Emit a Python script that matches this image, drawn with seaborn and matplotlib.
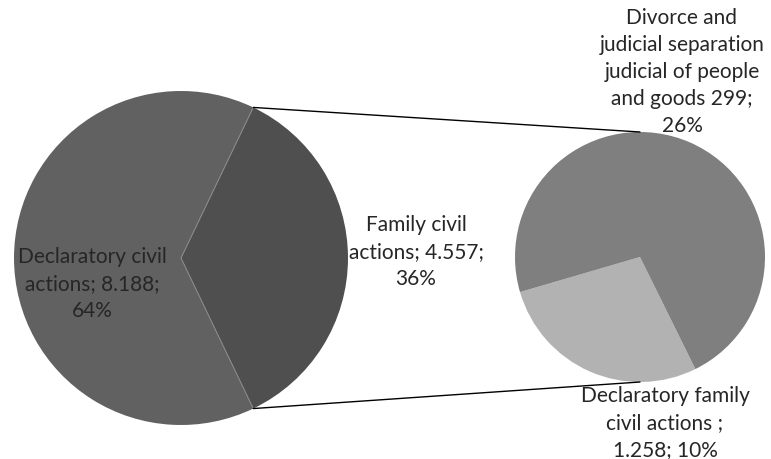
import numpy as np
import matplotlib
matplotlib.use("Agg")
import matplotlib.pyplot as plt
import seaborn as sns

# Main pie: civil actions
main_labels = ["Declaratory civil\nactions; 8.188;\n64%", "Family civil\nactions; 4.557;\n36%"]
main_values = [8188, 4557]
main_colors = ["#616161", "#4f4f4f"]

# Secondary pie: breakdown of family civil actions (percent of all civil actions)
sub_labels = ["Declaratory family\ncivil actions ;\n1.258; 10%",
              "Divorce and\njudicial separation\njudicial of people\nand goods 299;\n26%"]
sub_values = [10, 26]
sub_colors = ["#b2b2b2", "#7f7f7f"]

sns.set_theme(style="white")
plt.rcParams["font.family"] = ["Lato", "DejaVu Sans"]

W, H = 771, 460
fig = plt.figure(figsize=(W / 100, H / 100), dpi=100)
ax = fig.add_axes([0, 0, 1, 1])

# left pie, family slice centred on the right side
c1, r1 = (181, 201), 167
fam_share = main_values[1] / sum(main_values)
half = 180 * fam_share
ax.pie(main_values, colors=main_colors, center=c1, radius=r1,
       startangle=half, counterclock=True,
       wedgeprops=dict(edgecolor="none"), frame=True)

# right pie
c2, r2 = (640, 202), 125
ax.pie(sub_values, colors=sub_colors, center=c2, radius=r2,
       startangle=196.3, counterclock=True,
       wedgeprops=dict(edgecolor="none"), frame=True)

ax.set_xlim(0, W)
ax.set_ylim(0, H)
ax.set_aspect("equal")
ax.axis("off")

# thin separators between slices of the left pie
a = np.deg2rad(half)
top1 = (c1[0] + r1 * np.cos(a), c1[1] + r1 * np.sin(a))
bot1 = (c1[0] + r1 * np.cos(a), c1[1] - r1 * np.sin(a))
for p in (top1, bot1):
    ax.plot([c1[0], p[0]], [c1[1], p[1]], color="#8c8c8c", lw=0.7)

# connector lines
ax.plot([top1[0], c2[0]], [top1[1], c2[1] + r2], color="black", lw=1)
ax.plot([bot1[0], c2[0]], [bot1[1], c2[1] - r2], color="black", lw=1)

txt = dict(ha="center", va="center", fontsize=15, color="#262626", linespacing=1.45)
ax.text(92, H - 284, main_labels[0], **txt)
ax.text(416, H - 252, main_labels[1], **txt)
ax.text(682, H - 72, sub_labels[1], **txt)
ax.text(665, H - 423, sub_labels[0], **txt)

fig.savefig("out.png", dpi=100)
